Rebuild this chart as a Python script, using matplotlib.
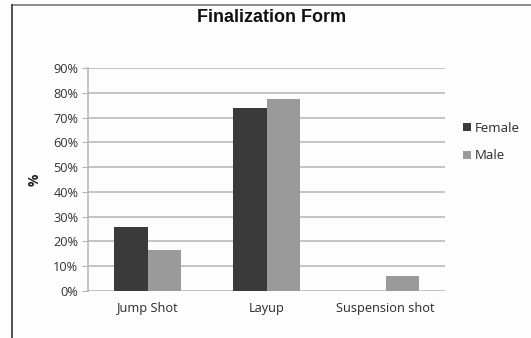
import numpy as np
import matplotlib.pyplot as plt
from matplotlib.lines import Line2D

categories = ["Jump Shot", "Layup", "Suspension shot"]
female = [0.26, 0.74, 0.0]
male = [0.165, 0.775, 0.06]
yticks = [0, 0.1, 0.2, 0.3, 0.4, 0.5, 0.6, 0.7, 0.8, 0.9]

plt.rcParams['font.family'] = ['Open Sans', 'DejaVu Sans']

fig = plt.figure(figsize=(5.31, 3.38), dpi=100)
fig.patch.set_facecolor('#fdfdfd')

# chart frame: top and left edges only
fig.add_artist(Line2D([12/531, 1], [1-5/338, 1-5/338], color='#7a7a7a', lw=1.2))
fig.add_artist(Line2D([12/531, 12/531], [0, 1-5/338], color='#333333', lw=1.2))

ax = fig.add_axes([88/531, 1-291/338, (445-88)/531, (291-68)/338])
ax.set_facecolor('#fdfdfd')

x = np.arange(len(categories))
w = 0.28
ax.bar(x - w/2, female, w, color='#3a3a3a', label='Female', zorder=3)
ax.bar(x + w/2, male, w, color='#9a9a9a', label='Male', zorder=3)

ax.set_xlim(-0.5, 2.5)
ax.set_ylim(0, 0.9)
ax.set_yticks(yticks)
ax.set_yticklabels([f"{int(round(t*100))}%" for t in yticks])
ax.set_xticks(x)
ax.set_xticklabels(categories)
ax.yaxis.grid(True, color='#b4b4b4', lw=1.1, zorder=0)
ax.tick_params(axis='y', length=4, color='#b4b4b4', labelsize=9.2, labelcolor='#333333', pad=3)
ax.tick_params(axis='x', length=0, labelsize=9.2, labelcolor='#2a2a2a', pad=8)
for s in ['top', 'right', 'bottom']:
    ax.spines[s].set_visible(False)
ax.spines['left'].set_color('#b4b4b4')
ax.spines['left'].set_linewidth(1.1)

ax.set_ylabel('%', fontsize=10, fontweight='bold', color='#222222', labelpad=8)

fig.text(272/531, 1-18/338, 'Finalization Form', ha='center', va='center',
         fontsize=13, fontweight='bold', family=['Liberation Sans', 'DejaVu Sans'], color='#111111')

ax.legend(loc='upper left', bbox_to_anchor=(451/531, 1-110/338), bbox_transform=fig.transFigure,
          frameon=False, fontsize=9.5, handlelength=0.6, handleheight=0.6, handletextpad=0.3,
          labelspacing=1.1, labelcolor='#2a2a2a')

fig.savefig('out.png', dpi=100, facecolor=fig.get_facecolor())
